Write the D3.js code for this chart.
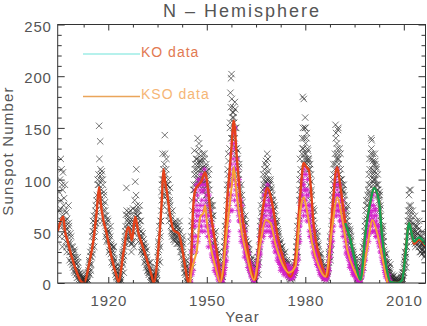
<!DOCTYPE html>
<html><head><meta charset="utf-8">
<script src="https://cdn.jsdelivr.net/npm/d3@7/dist/d3.min.js"></script>
<style>
html,body{margin:0;padding:0;background:#fff;}
svg{display:block;font-family:"Liberation Sans",Arial,sans-serif;}
</style></head><body>
<svg id="c" width="427" height="326"></svg>
<script>
// ---------- DATA ----------
const title = "N – Hemisphere";
const xLabel = "Year";
const yLabel = "Sunspot Number";
const xMajorTicks = [1920, 1950, 1980, 2010];
const yMajorTicks = [0, 50, 100, 150, 200, 250];
const legendNames = ["KO data", "KSO data"];

// KO observations: two interleaved sets, 6 per year each, starting 1905
const koStartYear = 1905;
const koPerYear = 6;
const koValues = [
88,45,72,120,60,95, 35,107,60,82,50,70, 40,68,30,52,45,75, 55,22,38,30,45,25, 18,35,25,12,30,20,
20,8,15,10,25,12, 6,2,10,3,8,0, 0,2,0,5,1,3, 3,0,8,6,2,10, 10,22,18,30,12,25,
45,28,60,50,35,55, 52,75,65,85,60,95, 105,152,80,137,100,90, 108,60,95,75,85,65, 70,45,58,40,62,50,
50,30,42,35,55,38, 20,32,18,28,35,22, 15,8,12,5,18,10, 2,0,4,6,1,3, 15,25,30,22,10,35,
38,50,66,92,45,60, 65,45,58,40,70,52, 30,55,40,72,35,48, 80,98,55,110,70,65, 65,40,52,75,45,60,
30,45,35,28,42,38, 20,30,25,15,32,22, 12,18,8,10,15,20, 3,6,0,2,8,4, 5,8,3,12,10,2,
25,40,32,55,20,45, 60,88,95,125,75,100, 115,143,85,105,120,95, 95,70,88,60,80,75, 65,50,48,70,58,42,
45,55,42,60,50,38, 50,38,52,42,60,35, 30,40,25,35,45,28, 18,10,15,8,22,12, 2,0,5,10,3,1,
25,45,60,80,15,35, 95,128,110,85,120,100, 120,140,100,125,130,110, 115,95,118,105,125,90, 110,98,120,90,105,115,
85,100,75,95,110,80, 60,80,55,70,65,75, 45,35,40,28,50,32, 25,18,20,12,30,15, 5,2,8,10,3,6,
20,35,40,55,28,48, 70,95,110,125,85,100, 150,184,198,202,140,165, 170,160,145,175,150,130, 130,110,120,95,105,115,
90,75,80,65,85,70, 60,50,45,55,65,40, 40,30,32,25,38,28, 20,15,22,12,18,25, 8,5,3,6,10,2,
10,14,18,25,8,20, 35,50,60,75,45,65, 80,105,95,110,85,90, 118,100,125,92,108,95, 95,85,100,75,90,80,
80,65,70,60,75,55, 55,45,60,40,50,48, 42,30,38,25,35,32, 28,20,25,15,22,30, 18,12,22,10,15,20,
8,5,10,3,12,6, 5,12,8,18,10,15, 20,30,40,55,25,45, 65,90,120,105,80,95, 140,180,130,178,120,150,
150,125,140,115,130,120, 120,95,110,80,105,90, 75,55,65,45,70,50, 45,35,40,30,50,38, 30,20,25,15,28,22,
15,10,8,12,18,5, 5,8,3,10,6,12, 15,28,35,45,22,38, 60,85,100,115,75,95, 125,153,145,110,130,120,
150,115,105,95,125,100, 100,85,90,70,95,80, 65,55,70,50,60,75, 40,55,45,35,50,42, 30,25,35,20,28,22,
20,15,18,10,25,12, 8,5,3,6,10,2, 10,18,25,35,15,28, 40,55,70,80,48,65, 75,90,105,120,85,100,
140,138,110,125,95,115, 100,125,115,95,110,90, 105,90,80,70,85,75, 60,50,45,35,55,40, 30,25,20,18,28,15,
15,10,20,8,12,18, 5,3,8,2,6,4, 2,0,3,0,5,1, 0,1,0,2,3,0, 2,5,0,8,4,10,
10,22,30,25,15,35, 45,60,70,85,90,55, 90,65,55,45,70,50, 50,40,65,35,45,55, 55,48,40,35,60,30,
45,30,38,28,50,35, 40,25,35,30,45,28
];
const koValuesB = [
70,100,55,80,110,65, 90,55,75,45,95,60, 55,35,62,48,38,58, 40,30,48,20,35,28, 28,15,22,32,10,25,
12,18,5,14,20,8, 4,9,1,7,2,5, 1,0,3,0,4,2, 5,1,4,9,3,12, 15,20,8,26,18,35,
32,50,40,65,45,58, 70,58,80,68,100,78, 95,120,85,110,75,105, 80,100,70,88,58,78, 55,65,48,52,42,60,
40,48,32,45,28,36, 30,25,35,20,24,15, 12,16,6,10,14,4, 1,3,5,0,8,12, 20,28,18,32,26,40,
45,55,42,70,52,62, 55,68,48,60,45,38, 45,38,60,50,65,58, 70,60,85,75,65,58, 55,70,48,60,42,50,
40,32,48,38,30,35, 28,22,35,18,25,12, 15,10,20,12,6,14, 5,2,7,1,3,5, 6,10,4,15,8,18,
30,22,38,48,35,60, 70,80,100,85,110,95, 100,125,90,110,95,80, 85,100,65,78,92,68, 55,62,45,58,52,48,
52,40,58,45,48,55, 45,55,40,48,38,50, 38,32,42,30,38,22, 20,14,18,10,16,6, 4,1,8,3,12,18,
40,30,55,70,50,90, 90,105,115,95,80,110, 105,115,95,135,100,118, 100,110,120,98,112,105, 100,125,95,112,85,108,
95,80,105,70,90,75, 70,58,75,62,50,65, 38,48,30,42,35,25, 20,28,15,22,10,18, 7,4,10,1,12,15,
25,30,45,35,60,52, 80,90,105,118,95,130, 155,170,140,178,160,145, 165,155,140,168,125,150, 120,105,128,100,112,92,
85,70,95,72,78,62, 55,62,48,52,42,58, 35,28,38,30,22,32, 18,22,14,20,10,16, 6,9,4,7,2,12,
15,12,22,18,30,28, 42,55,48,68,58,72, 90,85,100,92,115,98, 105,112,95,120,100,88, 88,98,80,92,70,85,
70,78,62,72,58,65, 50,58,42,52,45,38, 38,32,40,28,30,35, 25,22,28,18,20,16, 15,20,14,18,12,8,
6,10,4,8,5,9, 8,14,10,16,12,20, 25,35,30,48,40,60, 80,100,85,110,95,125, 130,150,115,140,125,160,
135,120,145,110,128,118, 110,100,115,88,98,85, 65,60,72,52,58,48, 40,42,35,45,32,36, 25,28,20,24,18,20,
12,14,9,15,7,10, 7,10,5,9,11,14, 20,30,25,40,32,52, 70,80,90,105,95,110, 115,140,120,135,125,148,
120,105,130,100,110,90, 90,95,80,88,75,85, 70,60,72,55,65,52, 45,48,38,52,40,45, 28,32,22,30,25,18,
18,20,12,16,8,14, 5,7,4,9,6,12, 15,22,20,30,25,38, 50,60,45,75,62,85, 80,95,88,110,95,125,
130,120,105,118,100,108, 105,118,100,112,95,85, 95,85,78,88,72,65, 55,48,52,40,45,32, 25,28,22,15,20,12,
12,15,8,14,10,6, 4,6,2,5,3,7, 1,3,0,2,4,1, 1,0,2,1,0,3, 4,6,2,10,7,15,
18,25,20,28,35,40, 50,55,65,75,60,70, 75,60,50,58,48,42, 45,55,38,50,42,60, 48,38,52,45,35,42,
40,35,45,32,38,30, 35,30,42,28,38,32
];

// KSO observations: two interleaved sets, 6 per year each, starting 1945
const ksoStartYear = 1945;
const ksoPerYear = 6;
const ksoValues = [
2,15,30,8,45,20, 40,70,55,90,30,65, 60,85,45,95,70,50, 75,95,55,88,65,100, 90,60,105,70,80,55,
65,45,75,55,85,40, 50,35,45,25,55,30, 28,20,35,15,25,18, 12,8,15,5,18,10, 3,0,5,2,8,0,
10,18,12,25,20,30, 35,55,45,70,60,85, 80,105,95,125,70,110, 120,145,100,135,90,115, 95,75,110,85,65,100,
70,50,60,45,75,55, 45,35,40,30,50,28, 30,22,35,20,28,18, 15,10,18,8,12,14, 5,3,8,2,6,4,
10,18,12,22,15,25, 30,45,35,50,40,55, 55,70,60,80,50,75, 65,85,55,95,70,60, 75,55,65,50,70,60,
55,40,50,35,45,42, 40,30,35,25,38,28, 25,18,22,15,28,20, 18,12,20,10,15,14, 15,10,12,8,18,10,
12,8,10,5,14,9, 8,12,6,15,10,14, 15,22,18,30,25,40, 45,65,55,80,70,90, 85,100,75,95,110,80,
90,70,85,65,100,75, 65,50,60,45,70,55, 45,35,40,28,50,32, 30,22,28,18,25,20, 18,12,20,10,15,14,
10,6,12,5,8,9, 5,8,3,10,6,12, 15,25,20,35,30,45, 45,60,50,75,65,85, 80,95,70,105,90,75,
85,70,95,65,80,60, 70,55,75,50,65,58, 45,35,50,30,40,32, 30,22,28,18,25,20, 18,12,15,10,20,8,
10,6,8,5,12,4, 3,5,2,6,0,4, 8,12,10,18,15,22, 25,35,28,40,32,45, 45,55,50,65,48,60,
60,75,55,70,85,50, 65,50,70,45,60,55, 55,40,50,35,45,42, 35,25,30,20,28,22, 15,10,12,8,14,6,
5,2,8,0,3,1
];
const ksoValuesB = [
0,10,22,35,12,55, 60,35,80,45,95,75, 70,40,100,65,55,90, 60,105,80,50,95,70, 75,110,50,95,65,85,
55,90,35,65,50,70, 40,60,28,48,35,22, 30,12,25,22,10,15, 8,14,3,10,12,6, 1,4,0,6,3,10,
15,8,28,15,35,22, 45,40,65,50,75,95, 95,70,115,85,135,100, 105,130,80,150,110,95, 85,120,70,95,60,80,
60,80,40,65,50,42, 38,55,25,45,35,32, 25,35,15,30,22,12, 12,20,6,15,9,10, 3,7,1,5,8,12,
14,8,20,28,18,32, 40,28,55,45,62,48, 65,45,85,58,70,90, 75,50,90,60,80,50, 60,80,45,68,55,48,
48,60,38,52,30,40, 32,45,22,35,30,20, 20,30,12,25,18,15, 14,22,8,18,12,16, 12,16,6,14,9,12,
10,15,4,11,7,6, 10,5,14,9,18,12, 20,12,28,35,22,50, 55,40,75,60,85,100, 75,95,65,105,90,70,
80,105,60,90,70,85, 60,75,45,65,50,40, 40,55,30,42,25,35, 25,32,18,28,22,15, 15,20,8,16,12,10,
8,12,4,10,6,7, 7,4,9,5,14,8, 20,12,30,25,40,35, 50,40,70,55,80,95, 75,100,65,85,110,70,
75,95,60,85,70,55, 62,80,45,60,70,50, 40,55,28,42,35,25, 25,32,15,28,22,18, 15,22,8,16,12,10,
8,12,3,9,6,5, 4,2,7,3,1,8, 10,6,15,12,20,28, 30,22,38,45,35,50, 50,40,60,70,55,68,
65,80,50,62,75,58, 58,72,45,65,50,48, 48,55,38,45,30,40, 30,38,22,28,18,25, 12,18,6,10,8,4,
3,5,0,2,1,0
];

// KO smoothed (red)
const koSmoothYears = [1904.6,1905.3,1906.3,1906.8,1907.5,1908.9,1910,1911.4,1912.4,1913.2,1914,1915.5,1916.5,1917.2,1917.7,1918,1919.5,1921,1922.6,1923.1,1924.6,1926.1,1926.6,1927.2,1928.2,1929.2,1930.2,1931.8,1933.3,1933.8,1935.3,1936.3,1936.8,1937.3,1937.9,1938.9,1939.9,1941.4,1942.4,1943.4,1944.4,1945.2,1945.8,1946.5,1947.5,1948.3,1949.5,1950,1951.1,1953.1,1954.6,1956.2,1957.5,1958.2,1959.2,1960.7,1962.3,1963.8,1964.8,1966.3,1967.5,1968.4,1969.9,1971.4,1973.4,1975.5,1977,1978.5,1979.5,1980.4,1981.1,1982.6,1984.6,1986.7,1988.2,1989.7,1990.7,1992.2,1993.8,1995.3,1996.8,1998.3,1999.9,2000.9,2002.4,2003.4,2004.5,2006,2008,2009.5,2010.5,2011.6,2012.3,2013.1,2014.6,2016.6];
const koSmoothValues = [50,58,64,50,42,25,14,3,0,4,16,42,70,93,78,70,48,25,6,1,29,54,50,41,64,48,38,22,6,0,35,80,110,98,87,64,51,48,35,16,0,20,70,90,95,98,107,100,70,29,3,80,130,157,119,68,35,10,3,54,80,92,77,48,22,6,25,87,116,112,109,54,22,6,70,112,93,58,41,19,3,48,80,92,80,45,19,1,0,3,30,58,50,38,42,36];

// second KO smoothed series (green), from 1992
const ko2SmoothYears = [1992.2,1993.8,1995.3,1996.8,1998.3,1999.9,2000.9,2002.4,2003.4,2004.5,2006,2008,2009.5,2010.5,2011.6,2012.4,2013.1,2014.6,2016.6];
const ko2SmoothValues = [58,41,19,3,48,80,92,80,45,19,1,0,3,28,58,48,40,44,37];

// KSO smoothed (orange)
const ksoSmoothYears = [1945.0,1945.1,1946,1947,1948,1949,1949.5,1950,1951,1952.6,1954.1,1955,1956.2,1957.7,1958.2,1959.2,1960.7,1962.3,1964.3,1966.3,1967.9,1969.4,1970.9,1972.9,1975,1977,1978.5,1979.5,1980.5,1982.1,1984.1,1986.1,1988.2,1989.7,1991.3,1992.8,1994.8,1996.8,1998.9,2000.4,2001.9,2003.4,2004.5,2005];
const ksoSmoothValues = [0,5,20,32,64,68,75,60,38,16,0,15,54,97,112,83,48,25,3,38,61,58,38,19,10,16,70,83,70,38,16,6,54,83,61,32,13,3,35,61,48,25,8,0];

// ---------- DRAW ----------
const svg = d3.select("#c");
const L = 57.7, R = 425.5, T = 24.5, B = 283;
const x = d3.scaleLinear().domain([1904.6, 2016.6]).range([L, R]);
const y = d3.scaleLinear().domain([0, 250]).range([B, T]);

svg.append("defs").append("clipPath").attr("id","clip")
  .append("rect").attr("x",L).attr("y",T).attr("width",R-L).attr("height",B-T);

const plot = svg.append("g").attr("clip-path","url(#clip)");

const step12 = 1/(2*koPerYear);
const ko = koValues.map((v,i)=>({t: koStartYear + i/koPerYear + step12*0.5, v}))
  .concat(koValuesB.map((v,i)=>({t: koStartYear + i/koPerYear + step12*1.5, v})));
const kso = ksoValues.map((v,i)=>({t: ksoStartYear + i/ksoPerYear + step12*0.5, v}))
  .concat(ksoValuesB.map((v,i)=>({t: ksoStartYear + i/ksoPerYear + step12*1.5, v})));

const cr = 3.2;
plot.append("g").selectAll("path").data(ko).join("path")
  .attr("d", d=>`M${x(d.t)-cr},${y(d.v)-cr}l${2*cr},${2*cr}m0,${-2*cr}l${-2*cr},${2*cr}`)
  .attr("fill","none").attr("stroke","#2a2a2a").attr("stroke-width",0.65);

const ar = 2.8, ad = ar*0.7;
plot.append("g").selectAll("path").data(kso).join("path")
  .attr("d", d=>{const X=x(d.t),Y=y(d.v);
    return `M${X-ar},${Y}h${2*ar}M${X},${Y-ar}v${2*ar}M${X-ad},${Y-ad}l${2*ad},${2*ad}M${X-ad},${Y+ad}l${2*ad},${-2*ad}`;})
  .attr("fill","none").attr("stroke","#d21ec6").attr("stroke-width",0.8);

const line = d3.line().x(d=>x(d[0])).y(d=>y(d[1])).curve(d3.curveMonotoneX);
plot.append("path").datum(d3.zip(koSmoothYears, koSmoothValues))
  .attr("d", line).attr("fill","none").attr("stroke","#e5421a").attr("stroke-width",2.4);
plot.append("path").datum(d3.zip(ksoSmoothYears, ksoSmoothValues))
  .attr("d", line).attr("fill","none").attr("stroke","#f7a232").attr("stroke-width",2);
plot.append("path").datum(d3.zip(ko2SmoothYears, ko2SmoothValues))
  .attr("d", line).attr("fill","none").attr("stroke","#14a050").attr("stroke-width",2.4);

// Axes
const xMinor = d3.range(1912.5, 2016.6, 7.5).filter(v=>!xMajorTicks.includes(v));
const yMinor = d3.range(10, 250, 10).filter(v=>v%50!==0);
const axColor = "#333";
function styleAxis(g){ g.select(".domain").remove(); g.selectAll("line").attr("stroke",axColor); }

svg.append("g").attr("transform",`translate(0,${B})`)
  .call(d3.axisBottom(x).tickValues(xMajorTicks).tickSize(-6).tickPadding(12).tickFormat(d3.format("d")))
  .call(styleAxis)
  .call(g=>g.selectAll("text").attr("font-size",15).attr("fill","#555").attr("font-family","Liberation Sans").attr("letter-spacing",0.8));
svg.append("g").attr("transform",`translate(0,${B})`)
  .call(d3.axisBottom(x).tickValues(xMinor).tickSize(-3).tickFormat(""))
  .call(styleAxis);
svg.append("g").attr("transform",`translate(0,${T})`)
  .call(d3.axisTop(x).tickValues(xMajorTicks).tickSize(-6).tickFormat(""))
  .call(styleAxis);
svg.append("g").attr("transform",`translate(0,${T})`)
  .call(d3.axisTop(x).tickValues(xMinor).tickSize(-3).tickFormat(""))
  .call(styleAxis);

svg.append("g").attr("transform",`translate(${L},0)`)
  .call(d3.axisLeft(y).tickValues(yMajorTicks).tickSize(-7).tickPadding(6))
  .call(styleAxis)
  .call(g=>g.selectAll("text").attr("font-size",15).attr("fill","#555").attr("font-family","Liberation Sans").attr("letter-spacing",0.8).attr("dy","0.45em"));
svg.append("g").attr("transform",`translate(${L},0)`)
  .call(d3.axisLeft(y).tickValues(yMinor).tickSize(-4).tickFormat(""))
  .call(styleAxis);
svg.append("g").attr("transform",`translate(${R},0)`)
  .call(d3.axisRight(y).tickValues(yMajorTicks).tickSize(-7).tickFormat(""))
  .call(styleAxis);
svg.append("g").attr("transform",`translate(${R},0)`)
  .call(d3.axisRight(y).tickValues(yMinor).tickSize(-4).tickFormat(""))
  .call(styleAxis);

svg.append("rect").attr("x",L).attr("y",T).attr("width",R-L).attr("height",B-T)
  .attr("fill","none").attr("stroke",axColor).attr("stroke-width",1);

// Titles
svg.append("text").attr("x",242).attr("y",17).attr("text-anchor","middle")
  .attr("font-size",18).attr("fill","#555").attr("letter-spacing",2).text(title);
svg.append("text").attr("x",242.5).attr("y",321.5).attr("text-anchor","middle")
  .attr("font-size",15).attr("fill","#555").attr("letter-spacing",1).text(xLabel);
svg.append("text").attr("transform","translate(13,151) rotate(-90)").attr("text-anchor","middle")
  .attr("font-size",15).attr("fill","#555").attr("letter-spacing",1.2).text(yLabel);

// Legend
const legColors = [{line:"#9eece6", text:"#e27a52"}, {line:"#eaa55a", text:"#f6b676"}];
const legY = [54, 96.5];
legendNames.forEach((n,i)=>{
  svg.append("line").attr("x1",83).attr("x2",140).attr("y1",legY[i]).attr("y2",legY[i])
    .attr("stroke",legColors[i].line).attr("stroke-width",1.6);
  svg.append("text").attr("x",141).attr("y",legY[i]+2.5)
    .attr("font-size",14).attr("fill",legColors[i].text).attr("letter-spacing",1).text(n);
});
</script>
</body></html>
